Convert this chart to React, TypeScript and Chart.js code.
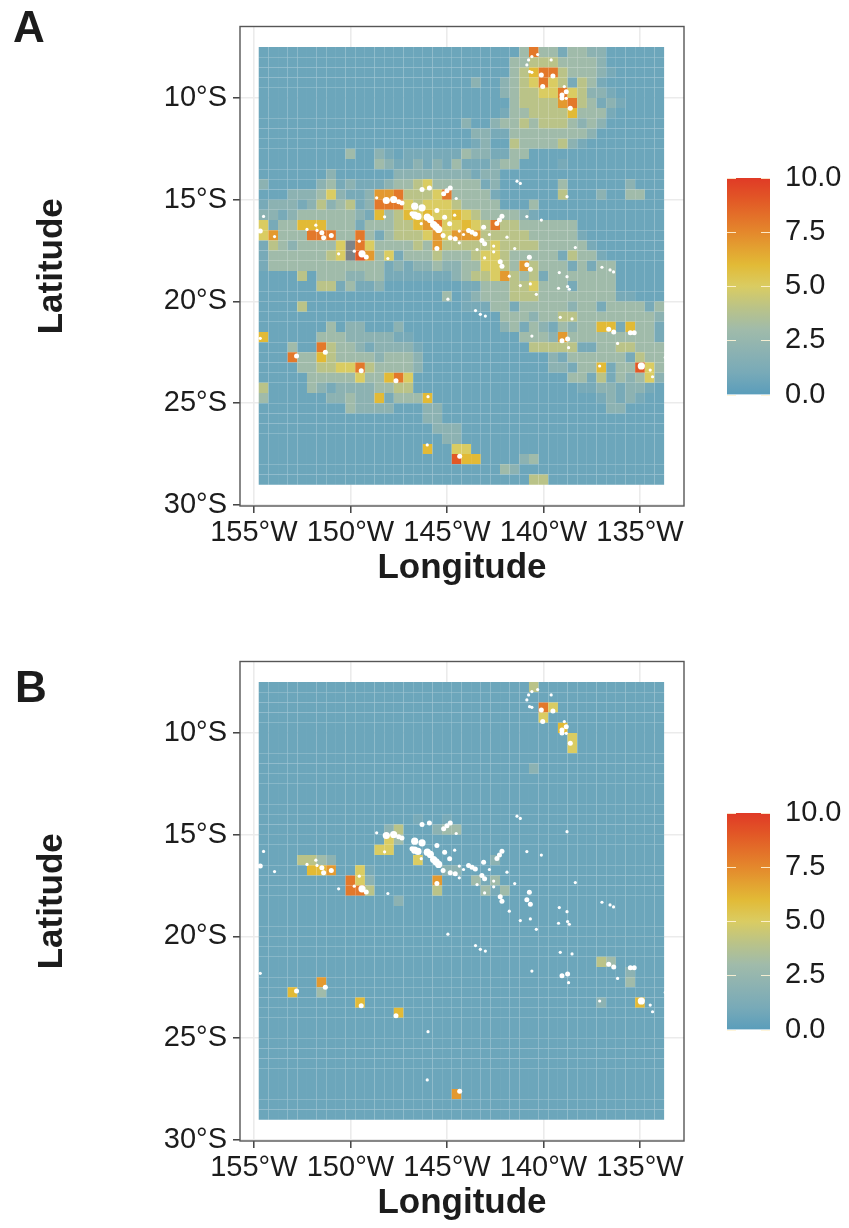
import React, { useEffect, useRef } from "react";
import { Chart, registerables } from "chart.js";

Chart.register(...registerables);

const FONT = "'Liberation Sans', Arial, sans-serif";
const INK = "#1c1c1c";

// Tick values
const lonTicks = [155, 150, 145, 140, 135];
const latTicks = [10, 15, 20, 25, 30];
const legendTicks = [0, 2.5, 5, 7.5, 10];

// Grid of the tiles: first tile centre and spacing (degrees)
const firstLon = 154.5;
const firstLat = 7.75;
const tileStep = 0.5;
const rowCount = 43;
const colCount = 42;

// Sparse tile values: [row, first column, one digit per tile]; "#" = no data
const cellsA: [number, number, string][] = [
  [0, 27, "383313322"],
  [1, 26, "3344433332"],
  [2, 26, "34688433321"],
  [3, 22, "20023458541431"],
  [4, 25, "234455854221"],
  [5, 26, "344447843121"],
  [6, 25, "133444463331"],
  [7, 21, "200233434443232"],
  [8, 22, "2211333333332"],
  [9, 22, "120043333421"],
  [10, 9, "300210"], [10, 15, "111111"], [10, 21, "3221133"],
  [11, 12, "321121213"], [11, 21, "111233"], [11, 31, "1"],
  [12, 7, "2"], [12, 14, "22222222122"],
  [13, 0, "2"], [13, 6, "2312111233453333312"], [13, 31, "3"], [13, 38, "2"],
  [14, 3, "2223521127784445833331"], [14, 31, "4"], [14, 35, "2"], [14, 38, "33"],
  [15, 0, "1222124234128885455543333"], [15, 28, "3"],
  [16, 0, "22123333332163465655654333321"],
  [17, 0, "513366633313334467855654844333333"],
  [18, 0, "5733388833831344457577744444333331"],
  [19, 0, "143233335#8533334374444454444333331"],
  [20, 0, "133333345#97351333433345543333314331"],
  [21, 0, "1333333333333121223223355437433313133"],
  [22, 4, "403332233"], [22, 13, "11111112"], [22, 21, "3445743413333333"],
  [23, 6, "4413112"], [23, 21, "1133344533313333"],
  [24, 19, "3"], [24, 21, "123334443333333311"],
  [25, 4, "4"], [25, 21, "111331333332331333313"],
  [26, 25, "33323344333333332"],
  [27, 7, "3"], [27, 9, "22"], [27, 14, "2"], [27, 25, "23132132336616331"],
  [28, 0, "6"], [28, 6, "3332222211"], [28, 27, "333273333333331"],
  [29, 3, "3"], [29, 6, "84332122221"], [29, 28, "44444113344333"],
  [30, 3, "83364333323332"], [30, 30, "213333331433"],
  [31, 4, "3344558433332"], [31, 30, "221336133953"],
  [32, 5, "33333533685"], [32, 32, "3314132352"],
  [33, 0, "4"], [33, 5, "32122223344"], [33, 33, "11221221"],
  [34, 0, "3"], [34, 7, "22322613336"], [34, 35, "12121"],
  [35, 9, "32222"], [35, 17, "22"], [35, 36, "22"],
  [36, 17, "22"],
  [37, 18, "222"],
  [38, 19, "22"],
  [39, 17, "6"], [39, 20, "55"],
  [40, 20, "966"], [40, 27, "23"],
  [41, 25, "32"],
  [42, 28, "44"],
];

const cellsB: [number, number, string][] = [
  [0, 28, "4"],
  [2, 29, "85"],
  [3, 29, "5"],
  [4, 31, "6"],
  [5, 32, "5"],
  [6, 32, "5"],
  [8, 28, "2"],
  [13, 16, "1"], [13, 19, "1"],
  [14, 13, "24"], [14, 18, "233"],
  [15, 13, "53"],
  [16, 12, "55"],
  [17, 4, "4432"], [17, 16, "5"], [17, 24, "2"],
  [18, 5, "667"], [18, 10, "51"], [18, 19, "22"],
  [19, 9, "852"], [19, 18, "7"], [19, 22, "313"],
  [20, 9, "884"], [20, 18, "4"], [20, 23, "313"],
  [21, 14, "2"],
  [27, 35, "43"],
  [28, 38, "2"],
  [29, 6, "7"], [29, 38, "3"],
  [30, 3, "6"], [30, 6, "3"],
  [31, 10, "6"], [31, 35, "2"], [31, 39, "6"],
  [32, 14, "6"],
  [40, 20, "7"],
];

// Land (lon W, lat S), grouped by how big the island looks
const islandsLarge: [number, number][] = [
  [148.14, 15.04], [147.76, 14.99], [146.67, 15.32], [146.29, 15.4], [146.67, 15.76],
  [146.5, 15.82], [146.02, 15.86], [145.86, 15.97], [145.69, 16.22], [145.43, 16.46],
  [145.56, 16.34], [149.4, 17.66], [134.93, 23.17],
];
const islandsMedium: [number, number][] = [
  [154.67, 16.54], [151.48, 16.63], [151.39, 16.87], [150.99, 16.76], [149.18, 17.82],
  [147.33, 15.16], [147.5, 15.1], [146.81, 15.69], [145.52, 15.53], [145.12, 15.86],
  [144.86, 16.18], [145.2, 16.76], [144.83, 16.87], [144.57, 16.92], [143.88, 16.51],
  [143.53, 16.68], [143.7, 16.6], [143.1, 16.35], [143.19, 17.0], [143.05, 17.17],
  [146.29, 14.5], [145.91, 14.42], [145.17, 14.71], [144.83, 14.42], [145.0, 14.56],
  [142.15, 15.81], [142.41, 16.17], [142.28, 16.0], [142.24, 18.05], [142.15, 18.27],
  [140.73, 17.83], [140.86, 18.2], [140.68, 18.42], [145.52, 17.4], [139.04, 21.93],
  [138.75, 21.85], [135.5, 21.54], [135.3, 21.54], [136.62, 21.37], [136.36, 21.5],
  [140.11, 8.87], [139.04, 9.85], [138.82, 9.69], [139.04, 10.0], [140.04, 9.44],
  [138.61, 10.51], [139.51, 8.92], [149.44, 23.4], [147.64, 23.89], [144.34, 27.6],
  [151.3, 22.5], [152.79, 22.68],
];
const islandsSmall: [number, number][] = [
  [153.93, 16.81], [154.5, 15.82], [152.25, 16.46], [151.79, 16.25], [151.73, 16.51],
  [150.61, 17.66], [149.8, 17.53], [149.54, 17.04], [148.06, 17.89], [148.64, 14.91],
  [148.23, 15.84], [146.33, 16.18], [144.6, 15.76], [144.52, 14.94], [144.36, 16.54],
  [144.36, 17.12], [144.14, 16.71], [142.8, 16.71], [141.89, 16.84], [141.49, 17.4],
  [141.77, 18.76], [142.58, 17.56], [142.58, 17.28], [143.44, 17.45], [143.05, 17.86],
  [141.37, 14.09], [141.2, 14.2], [138.78, 14.85], [140.86, 15.83], [140.11, 16.0],
  [138.35, 17.35], [136.97, 18.32], [136.37, 18.55], [136.55, 18.45], [139.18, 18.58],
  [138.78, 18.78], [139.22, 19.35], [138.75, 19.27], [138.66, 19.4], [140.37, 19.65],
  [140.68, 19.14], [141.2, 19.22], [143.52, 20.45], [143.27, 20.63], [143.01, 20.72],
  [140.6, 21.7], [139.13, 20.78], [138.52, 20.86], [138.7, 22.27], [136.16, 22.06],
  [137.09, 23.17], [134.47, 23.37], [134.35, 23.7], [133.69, 22.75], [154.67, 21.81],
  [145.98, 24.68], [146.02, 27.05], [144.95, 19.89], [140.6, 7.97], [140.3, 7.87],
  [139.6, 8.13], [140.72, 8.71], [140.6, 8.74], [138.92, 9.44], [138.82, 10.02],
  [140.77, 8.13], [140.86, 8.38],
];

// Colour ramp
const rampStops: [number, number, number, number][] = [
  [0, 108, 166, 187],
  [1, 120, 170, 184],
  [2, 140, 178, 178],
  [3, 160, 187, 170],
  [4, 186, 195, 136],
  [5, 218, 204, 98],
  [6, 226, 186, 54],
  [7.5, 228, 136, 44],
  [9, 226, 88, 38],
  [10, 224, 58, 38],
];
const legendBottom = "rgb(90,157,187)";
const noDataColor = "#7d8488";

function rampColor(v: number): string {
  if (Number.isNaN(v)) return noDataColor;
  for (let i = 1; i < rampStops.length; i++) {
    const a = rampStops[i - 1];
    const b = rampStops[i];
    if (v <= b[0]) {
      const t = (v - a[0]) / (b[0] - a[0]);
      const m = (k: number) => Math.round(a[k] + (b[k] - a[k]) * t);
      return `rgb(${m(1)},${m(2)},${m(3)})`;
    }
  }
  return "rgb(224,58,38)";
}

function buildTiles(cells: [number, number, string][]) {
  const grid: number[][] = [];
  for (let r = 0; r < rowCount; r++) grid.push(new Array(colCount).fill(0));
  for (const [r, start, digits] of cells) {
    [...digits].forEach((ch, i) => {
      grid[r][start + i] = ch === "#" ? NaN : Number(ch);
    });
  }
  const data: { x: number; y: [number, number] }[] = [];
  const colors: string[] = [];
  grid.forEach((row, r) =>
    row.forEach((v, c) => {
      const lat = firstLat + r * tileStep;
      data.push({ x: firstLon - c * tileStep, y: [lat - tileStep / 2, lat + tileStep / 2] });
      colors.push(rampColor(v));
    }),
  );
  return { data, colors };
}

const toPoints = (list: [number, number][]) => list.map(([x, y]) => ({ x, y }));

const frameBox = {
  id: "frameBox",
  afterDraw(chart: any) {
    const { left, top, width, height } = chart.chartArea;
    const c = chart.ctx;
    c.save();
    c.strokeStyle = "#565656";
    c.lineWidth = 1.4;
    c.strokeRect(left, top, width, height);
    c.restore();
  },
};

function makeMap(canvas: HTMLCanvasElement, cells: [number, number, string][]) {
  const tiles = buildTiles(cells);
  const islandSet = (list: [number, number][], radius: number) => ({
    type: "scatter" as const,
    data: toPoints(list),
    backgroundColor: "#ffffff",
    borderWidth: 0,
    pointRadius: radius,
    order: 0,
  });
  return new Chart(canvas, {
    type: "bar",
    data: {
      datasets: [
        {
          data: tiles.data as any,
          backgroundColor: tiles.colors,
          borderWidth: 0,
          inflateAmount: 0,
          barPercentage: 1,
          categoryPercentage: 1,
          order: 1,
        } as any,
        islandSet(islandsLarge, 3.6),
        islandSet(islandsMedium, 2.5),
        islandSet(islandsSmall, 1.6),
      ],
    },
    plugins: [frameBox],
    options: {
      responsive: false,
      animation: false,
      devicePixelRatio: 1,
      events: [],
      layout: { padding: { left: 0, right: 165, top: 26.5, bottom: 0 } },
      plugins: { legend: { display: false }, tooltip: { enabled: false } },
      scales: {
        x: {
          type: "linear",
          reverse: true,
          min: 132.72,
          max: 155.72,
          offset: false,
          grid: { offset: false, color: "#ebebeb", lineWidth: 1.6, tickLength: 7, tickColor: "#333333", tickWidth: 1.4 },
          border: { display: false },
          afterBuildTicks: (s: any) => { s.ticks = lonTicks.map((value) => ({ value })); },
          afterFit: (s: any) => { s.height = 84; },
          ticks: {
            autoSkip: false,
            maxRotation: 0,
            padding: 3,
            color: INK,
            font: { family: FONT, size: 29 },
            callback: (v: any) => `${v}°W`,
          },
          title: {
            display: true,
            text: "Longitude",
            color: INK,
            font: { family: FONT, size: 35, weight: "bold" },
            padding: { top: 0, bottom: 1 },
          },
        },
        y: {
          type: "linear",
          reverse: true,
          min: 6.49,
          max: 30.05,
          grid: { color: "#ebebeb", lineWidth: 1.6, tickLength: 7, tickColor: "#333333", tickWidth: 1.4 },
          border: { display: false },
          afterBuildTicks: (s: any) => { s.ticks = latTicks.map((value) => ({ value })); },
          afterFit: (s: any) => { s.width = 240; },
          ticks: {
            autoSkip: false,
            padding: 6,
            color: INK,
            font: { family: FONT, size: 29 },
            callback: (v: any) => `${v}°S`,
          },
          title: {
            display: true,
            text: "Latitude",
            color: INK,
            font: { family: FONT, size: 35, weight: "bold" },
            padding: { top: 31, bottom: 0 },
          },
        },
      },
    } as any,
  });
}

const legendMarks = {
  id: "legendMarks",
  afterDatasetsDraw(chart: any) {
    const { left, right } = chart.chartArea;
    const y = chart.scales.y;
    const c = chart.ctx;
    c.save();
    c.strokeStyle = "rgba(255,244,214,0.9)";
    c.lineWidth = 1;
    for (const v of legendTicks) {
      const p = Math.round(y.getPixelForValue(v)) + 0.5;
      c.beginPath();
      c.moveTo(left, p);
      c.lineTo(left + 9, p);
      c.moveTo(right - 9, p);
      c.lineTo(right, p);
      c.stroke();
    }
    c.restore();
  },
};

function makeLegend(canvas: HTMLCanvasElement) {
  return new Chart(canvas, {
    type: "bar",
    data: {
      labels: [""],
      datasets: [
        {
          data: [[legendTicks[0], legendTicks[legendTicks.length - 1]]] as any,
          barPercentage: 1,
          categoryPercentage: 1,
          borderWidth: 0,
          backgroundColor: (ctx: any) => {
            const chart = ctx.chart;
            if (!chart.chartArea) return rampColor(5);
            const y = chart.scales.y;
            const g = chart.ctx.createLinearGradient(0, y.getPixelForValue(0), 0, y.getPixelForValue(10));
            for (const s of rampStops) g.addColorStop(s[0] / 10, s[0] === 0 ? legendBottom : rampColor(s[0]));
            return g;
          },
        } as any,
      ],
    },
    plugins: [legendMarks],
    options: {
      responsive: false,
      animation: false,
      devicePixelRatio: 1,
      events: [],
      layout: { padding: { left: 0, right: 0, top: 18, bottom: 15.5 } },
      plugins: { legend: { display: false }, tooltip: { enabled: false } },
      scales: {
        x: { display: false },
        y: {
          position: "right",
          min: 0,
          max: 10,
          grid: { display: false, drawTicks: false },
          border: { display: false },
          afterBuildTicks: (s: any) => { s.ticks = legendTicks.map((value) => ({ value })); },
          afterFit: (s: any) => {
            s.width = 79;
            s.paddingTop = 0;
            s.paddingBottom = 0;
          },
          ticks: {
            padding: 15,
            color: INK,
            font: { family: FONT, size: 29 },
            callback: (v: any) => Number(v).toFixed(1),
          },
        },
      },
    } as any,
  });
}

const abs = (left: number, top: number): React.CSSProperties => ({
  position: "absolute",
  left,
  top,
  display: "block",
});

const panelLetter = (left: number, top: number): React.CSSProperties => ({
  ...abs(left, top),
  font: `bold 44px/44px ${FONT}`,
  color: INK,
});

export default function App() {
  const mapA = useRef<HTMLCanvasElement>(null);
  const mapB = useRef<HTMLCanvasElement>(null);
  const legA = useRef<HTMLCanvasElement>(null);
  const legB = useRef<HTMLCanvasElement>(null);

  useEffect(() => {
    const charts = [
      makeMap(mapA.current!, cellsA),
      makeMap(mapB.current!, cellsB),
      makeLegend(legA.current!),
      makeLegend(legB.current!),
    ];
    return () => charts.forEach((c) => c.destroy());
  }, []);

  return (
    <div style={{ position: "absolute", left: 0, top: 0, width: 849, height: 1228, background: "#fff", overflow: "hidden" }}>
      <canvas ref={mapA} width={849} height={590} style={abs(0, 0)} />
      <canvas ref={legA} width={122} height={250} style={abs(727, 160)} />
      <canvas ref={mapB} width={849} height={590} style={abs(0, 635)} />
      <canvas ref={legB} width={122} height={250} style={abs(727, 795)} />
      <div style={panelLetter(13, 5)}>A</div>
      <div style={panelLetter(15, 665)}>B</div>
    </div>
  );
}
